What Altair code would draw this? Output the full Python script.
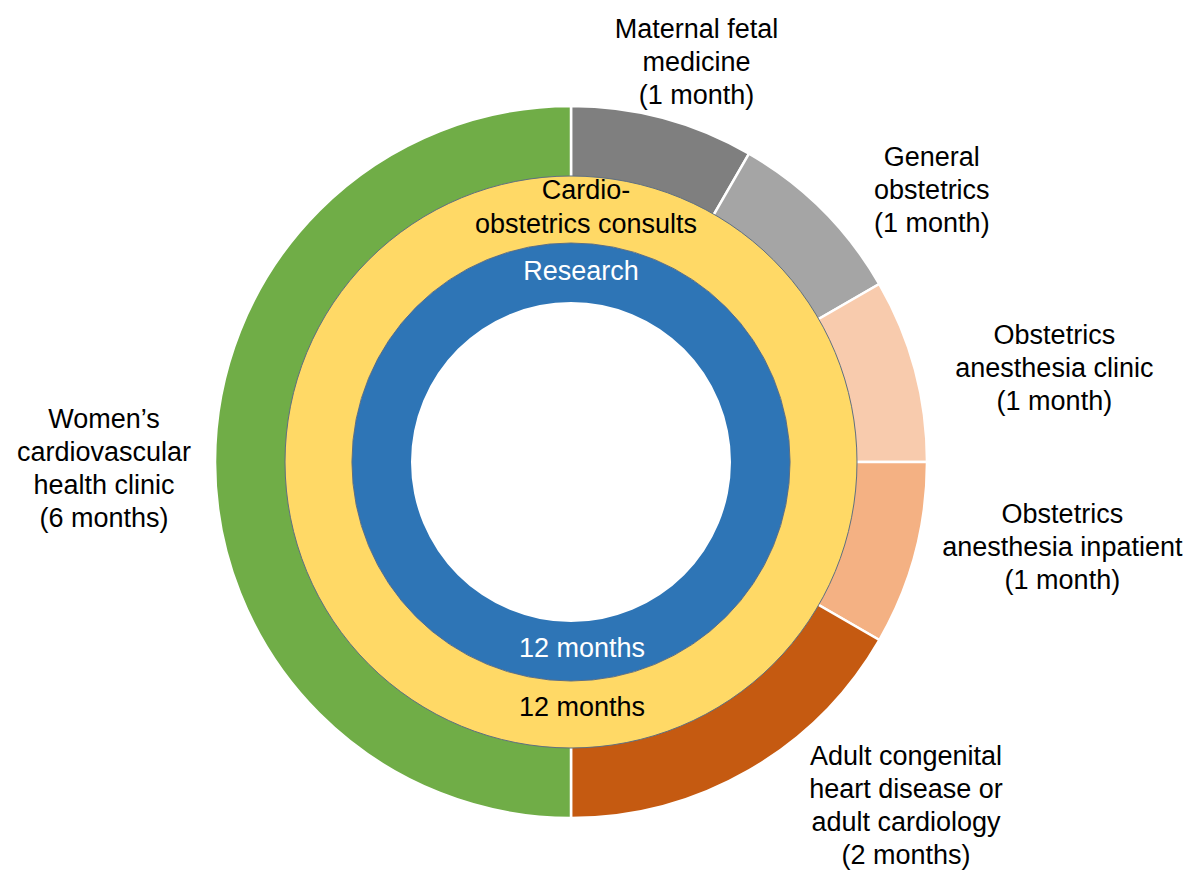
import math
import altair as alt
import pandas as pd

# ---------------- data ----------------
rotation_names = [
    "Maternal fetal medicine",
    "General obstetrics",
    "Obstetrics anesthesia clinic",
    "Obstetrics anesthesia inpatient",
    "Adult congenital heart disease or adult cardiology",
    "Women's cardiovascular health clinic",
]
rotation_labels = [
    "Maternal fetal\nmedicine\n(1 month)",
    "General\nobstetrics\n(1 month)",
    "Obstetrics\nanesthesia clinic\n(1 month)",
    "Obstetrics\nanesthesia inpatient\n(1 month)",
    "Adult congenital\nheart disease or\nadult cardiology\n(2 months)",
    "Women\u2019s\ncardiovascular\nhealth clinic\n(6 months)",
]
rotation_months = [1, 1, 1, 1, 2, 6]

ring_names = ["Cardio-obstetrics consults", "Research"]
ring_labels = ["Cardio-\nobstetrics consults", "Research"]
ring_months = [12, 12]
ring_month_labels = ["12 months", "12 months"]

# ---------------- styling ----------------
rotation_colors = ["#7f7f7f", "#a5a5a5", "#f8cbad", "#f4b183", "#c55a11", "#70ad47"]
ring_colors = ["#ffd966", "#2e75b6"]
FONT = "Liberation Sans"
FS = 27
LH = 33
TOTAL = 12

# label nudges (dx, dy of block centre) relative to radial anchor, per rotation label
label_nudges = [(22, -13), (78, 12), (97, 11), (105, -18), (135, -2), (-67, 7)]

# ---------------- tables ----------------
outer = pd.DataFrame({
    "idx": list(range(len(rotation_names))),
    "name": rotation_names,
    "label": rotation_labels,
    "months": rotation_months,
})
outer["end"] = outer["months"].cumsum()
outer["start"] = outer["end"] - outer["months"]
outer["mid"] = (outer["start"] + outer["end"]) / 2

rings = pd.DataFrame({
    "name": ring_names,
    "label": ring_labels,
    "months": ring_months,
    "mlabel": ring_month_labels,
})
rings["start"] = 0
rings["end"] = rings["months"]
rings["mid"] = rings["end"] / 2

theta_scale = alt.Scale(domain=[0, TOTAL], range=[0, 2 * math.pi])
color_scale = alt.Scale(domain=rotation_names + ring_names,
                        range=rotation_colors + ring_colors)

# ---------------- arcs ----------------
outer_arc = alt.Chart(outer).mark_arc(
    radius=356, radius2=283, stroke="white", strokeWidth=2.5
).encode(
    theta=alt.Theta("start:Q", scale=theta_scale),
    theta2="end:Q",
    color=alt.Color("name:N", scale=color_scale, legend=None),
)

blue_arc = alt.Chart(rings).transform_filter(
    alt.datum.name == "Research"
).mark_arc(radius=219, radius2=160).encode(
    theta=alt.Theta("start:Q", scale=theta_scale),
    theta2="end:Q",
    color=alt.Color("name:N", scale=color_scale, legend=None),
)

yellow_arc = alt.Chart(rings).transform_filter(
    alt.datum.name == "Cardio-obstetrics consults"
).mark_arc(radius=286, radius2=219, stroke="#5f6f80", strokeWidth=1).encode(
    theta=alt.Theta("start:Q", scale=theta_scale),
    theta2="end:Q",
    color=alt.Color("name:N", scale=color_scale, legend=None),
)

layers = [outer_arc, blue_arc, yellow_arc]


def block_shift(text, lh):
    # Vega anchors the first line; shift so the block is centred
    return -(text.count("\n")) * lh / 2


# ---------------- outer labels ----------------
for i, (dx, dy) in enumerate(label_nudges):
    layers.append(
        alt.Chart(outer).transform_filter(alt.datum.idx == i).mark_text(
            radius=400, dx=dx, dy=dy + block_shift(rotation_labels[i], LH),
            font=FONT, fontSize=FS, lineHeight=LH,
            lineBreak="\n", align="center", baseline="middle", color="black",
        ).encode(
            theta=alt.Theta("mid:Q", scale=theta_scale),
            text="label:N",
        )
    )

# ---------------- ring labels ----------------
ring_text_specs = [
    # (ring index, field, theta field, radius, dx, color)
    (0, "label", "start", 254, 15, "black"),
    (1, "label", "start", 190, 10, "white"),
    (1, "mlabel", "mid", 187, 11, "white"),
    (0, "mlabel", "mid", 246, 11, "black"),
]
for ri, field, tf, r, dx, col in ring_text_specs:
    txt = ring_labels[ri] if field == "label" else ring_month_labels[ri]
    layers.append(
        alt.Chart(rings).transform_filter(alt.datum.name == ring_names[ri]).mark_text(
            radius=r, dx=dx, dy=block_shift(txt, LH + 1),
            font=FONT, fontSize=FS, lineHeight=LH + 1,
            lineBreak="\n", align="center", baseline="middle", color=col,
        ).encode(
            theta=alt.Theta(f"{tf}:Q", scale=theta_scale),
            text=f"{field}:N",
        )
    )

chart = alt.layer(*layers).properties(
    width=800,
    height=700,
    autosize="none",
    padding={"left": 163, "top": 104, "right": 220, "bottom": 68},
).configure_view(stroke=None)

chart.save("out.html", embed_options={"renderer": "svg", "actions": False})
